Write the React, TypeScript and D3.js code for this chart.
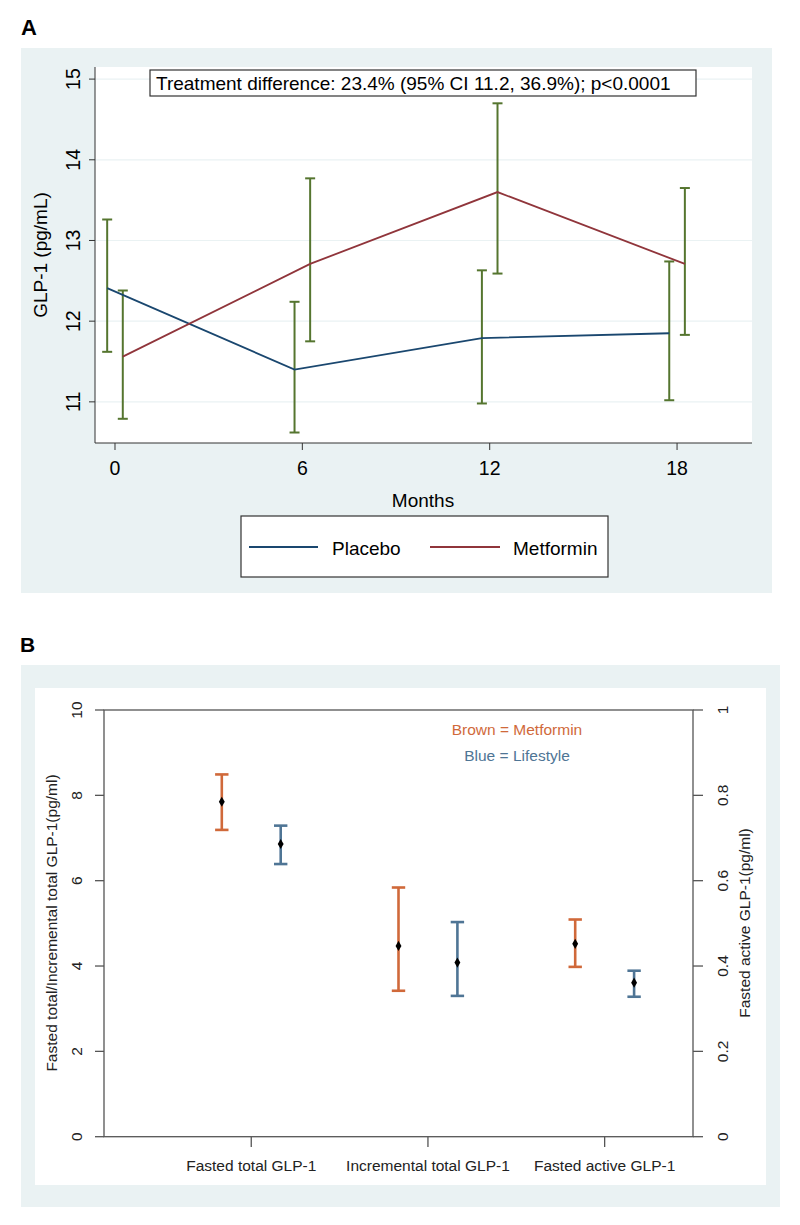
import React from "react";
import * as d3 from "d3";

// ---------- Panel A data ----------
const months = [0, 6, 12, 18];
const placeboMean = [12.41, 11.4, 11.79, 11.85];
const placeboLo = [11.62, 10.62, 10.98, 11.02];
const placeboHi = [13.26, 12.24, 12.63, 12.74];
const metforminMean = [11.56, 12.71, 13.6, 12.71];
const metforminLo = [10.79, 11.75, 12.59, 11.83];
const metforminHi = [12.38, 13.77, 14.7, 13.65];
const yTicksA = [11, 12, 13, 14, 15];
const annotationA = "Treatment difference: 23.4% (95% CI 11.2, 36.9%); p<0.0001";
const legendA = ["Placebo", "Metformin"];

// ---------- Panel B data ----------
const categoriesB = ["Fasted total GLP-1", "Incremental total GLP-1", "Fasted active GLP-1"];
const axisSideB = ["left", "left", "right"];
const metMeanB = [7.85, 4.47, 0.452];
const metLoB = [7.19, 3.42, 0.398];
const metHiB = [8.49, 5.84, 0.509];
const lifeMeanB = [6.86, 4.08, 0.361];
const lifeLoB = [6.39, 3.3, 0.328];
const lifeHiB = [7.29, 5.03, 0.389];
const yTicksLeftB = [0, 2, 4, 6, 8, 10];
const yTicksRightB = [0, 0.2, 0.4, 0.6, 0.8, 1];

const FONT = "'Liberation Sans', Arial, sans-serif";
const BG = "#eaf2f3";
const NAVY = "#1a476f";
const MAROON = "#90353b";
const GREEN = "#55752f";
const BROWN = "#d0693a";
const BLUE = "#4f7595";

function PanelA() {
  const x = d3.scaleLinear().domain([-0.64, 20.4]).range([95, 752]);
  const y = d3.scaleLinear().domain([10.49, 15.15]).range([443, 67]);
  const plX = (i: number) => x(months[i] - 0.25);
  const mtX = (i: number) => x(months[i] + 0.25);
  const plLine = d3
    .line<number>()
    .x((_, i) => plX(i))
    .y((d) => y(d));
  const mtLine = d3
    .line<number>()
    .x((_, i) => mtX(i))
    .y((d) => y(d));
  const cap = 5;
  const errBar = (cx: number, lo: number, hi: number, key: string) => (
    <g key={key} stroke={GREEN} strokeWidth={2} fill="none">
      <line x1={cx} x2={cx} y1={y(lo)} y2={y(hi)} />
      <line x1={cx - cap} x2={cx + cap} y1={y(lo)} y2={y(lo)} />
      <line x1={cx - cap} x2={cx + cap} y1={y(hi)} y2={y(hi)} />
    </g>
  );
  return (
    <g fontFamily={FONT}>
      <text x={21} y={35} fontSize={22} fontWeight="bold" fill="#000">A</text>
      <rect x={21} y={48} width={751} height={545} fill={BG} />
      <rect x={95} y={67} width={657} height={376} fill="#fff" />
      {yTicksA.map((t) => (
        <line key={"g" + t} x1={95} x2={752} y1={y(t)} y2={y(t)} stroke={BG} strokeWidth={1.2} />
      ))}
      <line x1={95} x2={95} y1={67} y2={443} stroke="#333" strokeWidth={1} />
      <line x1={95} x2={752} y1={443} y2={443} stroke="#333" strokeWidth={1} />
      {yTicksA.map((t) => (
        <g key={"yt" + t}>
          <line x1={89} x2={95} y1={y(t)} y2={y(t)} stroke="#333" />
          <text transform={`translate(80,${y(t)}) rotate(-90)`} textAnchor="middle" fontSize={19.5} fill="#000">
            {t}
          </text>
        </g>
      ))}
      {months.map((m) => (
        <g key={"xt" + m}>
          <line x1={x(m)} x2={x(m)} y1={443} y2={450} stroke="#333" />
          <text x={x(m)} y={475} textAnchor="middle" fontSize={19.5} fill="#000">
            {m}
          </text>
        </g>
      ))}
      <text transform={`translate(47,255) rotate(-90)`} textAnchor="middle" fontSize={19} fill="#000">
        GLP-1 (pg/mL)
      </text>
      <text x={423} y={507} textAnchor="middle" fontSize={19} fill="#000">Months</text>
      {months.map((_, i) => errBar(plX(i), placeboLo[i], placeboHi[i], "pe" + i))}
      {months.map((_, i) => errBar(mtX(i), metforminLo[i], metforminHi[i], "me" + i))}
      <path d={plLine(placeboMean) || ""} fill="none" stroke={NAVY} strokeWidth={1.8} />
      <path d={mtLine(metforminMean) || ""} fill="none" stroke={MAROON} strokeWidth={1.8} />
      <rect x={150} y={70} width={546} height={26} fill="#fff" stroke="#333" strokeWidth={1.2} />
      <text x={156} y={90} fontSize={19} fill="#000">{annotationA}</text>
      <rect x={241} y={516} width={367} height={61} fill="#fff" stroke="#333" strokeWidth={1.2} />
      <line x1={249} x2={318} y1={547} y2={547} stroke={NAVY} strokeWidth={1.8} />
      <text x={332} y={555} fontSize={19} fill="#000">{legendA[0]}</text>
      <line x1={430} x2={500} y1={547} y2={547} stroke={MAROON} strokeWidth={1.8} />
      <text x={513} y={555} fontSize={19} fill="#000">{legendA[1]}</text>
    </g>
  );
}

function PanelB() {
  const x = d3.scaleLinear().domain([1 / 6, 3.5]).range([104, 693]);
  const yL = d3.scaleLinear().domain([0, 10]).range([1136.7, 710]);
  const yR = d3.scaleLinear().domain([0, 1]).range([1136.7, 710]);
  const diamond = d3.symbol().type(d3.symbolDiamond).size(30)() || "";
  const cap = 6.7;
  const bar = (cx: number, ys: any, lo: number, mean: number, hi: number, color: string, key: string) => (
    <g key={key}>
      <g stroke={color} strokeWidth={2.6} fill="none">
        <line x1={cx} x2={cx} y1={ys(lo)} y2={ys(hi)} />
        <line x1={cx - cap} x2={cx + cap} y1={ys(lo)} y2={ys(lo)} />
        <line x1={cx - cap} x2={cx + cap} y1={ys(hi)} y2={ys(hi)} />
      </g>
      <path d={diamond} transform={`translate(${cx},${ys(mean)})`} fill="#000" />
    </g>
  );
  return (
    <g fontFamily={FONT}>
      <text x={20} y={652} fontSize={21} fontWeight="bold" fill="#000">B</text>
      <rect x={21} y={665} width={759} height={542} fill={BG} />
      <rect x={35} y={688} width={731} height={497} fill="#fff" />
      <rect x={104} y={710} width={589} height={426.7} fill="none" stroke="#555" strokeWidth={1.3} />
      {yTicksLeftB.map((t) => (
        <g key={"l" + t}>
          <line x1={95} x2={104} y1={yL(t)} y2={yL(t)} stroke="#555" strokeWidth={1.3} />
          <text transform={`translate(82,${yL(t)}) rotate(-90)`} textAnchor="middle" fontSize={15.5} fill="#222">
            {t}
          </text>
        </g>
      ))}
      {yTicksRightB.map((t) => (
        <g key={"r" + t}>
          <line x1={693} x2={703} y1={yR(t)} y2={yR(t)} stroke="#555" strokeWidth={1.3} />
          <text transform={`translate(728,${yR(t)}) rotate(-90)`} textAnchor="middle" fontSize={15.5} fill="#222">
            {t}
          </text>
        </g>
      ))}
      {categoriesB.map((c, i) => (
        <g key={"c" + i}>
          <line x1={x(i + 1)} x2={x(i + 1)} y1={1136.7} y2={1147} stroke="#555" strokeWidth={1.3} />
          <text x={x(i + 1)} y={1171} textAnchor="middle" fontSize={15.5} fill="#222">
            {c}
          </text>
        </g>
      ))}
      <text transform={`translate(57,923) rotate(-90)`} textAnchor="middle" fontSize={15.5} fill="#222">
        Fasted total/Incremental total GLP-1(pg/ml)
      </text>
      <text transform={`translate(750,923) rotate(-90)`} textAnchor="middle" fontSize={15.5} fill="#222">
        Fasted active GLP-1(pg/ml)
      </text>
      <text x={517} y={735} textAnchor="middle" fontSize={15.5} fill={BROWN}>Brown = Metformin</text>
      <text x={517} y={761} textAnchor="middle" fontSize={15.5} fill={BLUE}>Blue = Lifestyle</text>
      {categoriesB.map((_, i) => {
        const ys = axisSideB[i] === "left" ? yL : yR;
        return (
          <g key={"b" + i}>
            {bar(x(i + 1 - 1 / 6), ys, metLoB[i], metMeanB[i], metHiB[i], BROWN, "m" + i)}
            {bar(x(i + 1 + 1 / 6), ys, lifeLoB[i], lifeMeanB[i], lifeHiB[i], BLUE, "f" + i)}
          </g>
        );
      })}
    </g>
  );
}

export default function App() {
  return (
    <svg
      width={800}
      height={1225}
      viewBox="0 0 800 1225"
      style={{ position: "absolute", left: 0, top: 0, display: "block", background: "#fff" }}
    >
      <rect x={0} y={0} width={800} height={1225} fill="#fff" />
      <PanelA />
      <PanelB />
    </svg>
  );
}
